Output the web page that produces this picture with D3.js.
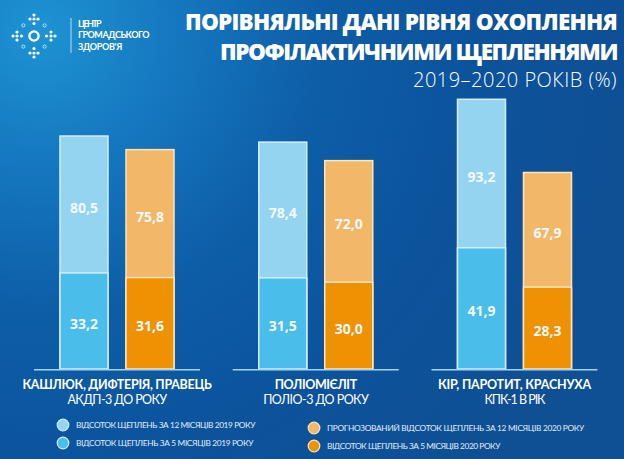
<!DOCTYPE html>
<html><head><meta charset="utf-8">
<script src="https://cdn.jsdelivr.net/npm/d3@7"></script>
<style>html,body{margin:0;padding:0;background:#0d5aa2;overflow:hidden;} svg{display:block;}</style>
</head><body><svg id="c" width="624" height="459"></svg>
<script>
// ---- data ----
const categories = ["КАШЛЮК, ДИФТЕРІЯ, ПРАВЕЦЬ", "ПОЛІОМІЄЛІТ", "КІР, ПАРОТИТ, КРАСНУХА"];
const subLabels = ["АКДП-3 ДО РОКУ", "ПОЛІО-3 ДО РОКУ", "КПК-1 В РІК"];
const years = ["2019", "2020"];
const full2019 = [80.5, 78.4, 93.2];
const part2019 = [33.2, 31.5, 41.9];
const full2020 = [75.8, 72.0, 67.9];
const part2020 = [31.6, 30.0, 28.3];
const legendLabels = [
  "ВІДСОТОК ЩЕПЛЕНЬ ЗА 12 МІСЯЦІВ 2019 РОКУ",
  "ВІДСОТОК ЩЕПЛЕНЬ ЗА 5 МІСЯЦІВ 2019 РОКУ",
  "ПРОГНОЗОВАНИЙ ВІДСОТОК ЩЕПЛЕНЬ ЗА 12 МІСЯЦІВ 2020 РОКУ",
  "ВІДСОТОК ЩЕПЛЕНЬ ЗА 5 МІСЯЦІВ 2020 РОКУ"
];
const titleLines = ["ПОРІВНЯЛЬНІ ДАНІ РІВНЯ ОХОПЛЕННЯ", "ПРОФІЛАКТИЧНИМИ ЩЕПЛЕННЯМИ", "2019–2020 РОКІВ (%)"];
const logoLines = ["ЦЕНТР", "ГРОМАДСЬКОГО", "ЗДОРОВ'Я"];

// ---- styles ----
const colFull = {"2019": "#95d4f1", "2020": "#f2b867"};
const colPart = {"2019": "#4abdea", "2020": "#ee9204"};
const colStroke = {"2019": "#d2eefb", "2020": "#fde5bd"};
const fmt = v => d3.format(".1f")(v).replace(".", ",");

// fit a text to a target width by adjusting letter spacing
function fit(sel, target) {
  const node = sel.node();
  const w = node.getComputedTextLength();
  const n = node.textContent.length;
  sel.attr("letter-spacing", ((target - w) / n).toFixed(3));
  return sel;
}

const svg = d3.select("#c");
const defs = svg.append("defs");
const rg = defs.append("radialGradient").attr("id", "bg")
  .attr("gradientUnits", "userSpaceOnUse").attr("cx", 40).attr("cy", 30).attr("r", 620);
[[0, "#1e93d3"], [0.22, "#1577bf"], [0.45, "#0d5ea7"], [0.7, "#0c539c"], [1, "#0f4f93"]]
  .forEach(([o, c]) => rg.append("stop").attr("offset", o).attr("stop-color", c));
svg.append("rect").attr("width", 624).attr("height", 459).attr("fill", "url(#bg)");

// ---- logo ----
const logo = svg.append("g").attr("transform", "translate(34,36)");
logo.append("circle").attr("r", 4.6).attr("fill", "none").attr("stroke", "#fff").attr("stroke-width", 2.4);
const armDots = [[0, -21], [-4, -17], [0, -17], [4, -17], [0, -12.5]];
for (let k = 0; k < 4; k++) {
  const a = k * Math.PI / 2;
  armDots.forEach(([dx, dy]) => {
    const x = dx * Math.cos(a) - dy * Math.sin(a), yy = dx * Math.sin(a) + dy * Math.cos(a);
    logo.append("circle").attr("cx", x).attr("cy", yy).attr("r", 1.6).attr("fill", "#fff");
  });
  const hx = Math.cos(a + Math.PI / 4) * 15, hy = Math.sin(a + Math.PI / 4) * 15;
  logo.append("circle").attr("cx", hx).attr("cy", hy).attr("r", 1.6).attr("fill", "none")
    .attr("stroke", "#fff").attr("stroke-width", 0.8).attr("opacity", 0.85);
}
svg.append("line").attr("x1", 71).attr("x2", 71).attr("y1", 18).attr("y2", 53)
  .attr("stroke", "#8fcdef").attr("stroke-width", 1.3);
const logoW = [22, 71, 44];
logoLines.forEach((t, i) => {
  fit(svg.append("text").attr("x", 78).attr("y", 27 + i * 11.3).text(t)
    .attr("font-family", "Lato, 'Open Sans', sans-serif").attr("font-weight", 700).attr("font-size", 9)
    .attr("fill", "#fff"), logoW[i]);
});

// ---- title ----
const tY = [30, 60, 87], tW = [432, 397, 204], tS = [22.5, 22.5, 20], tWt = [800, 800, 300];
titleLines.forEach((t, i) => {
  fit(svg.append("text").attr("x", 617).attr("y", tY[i]).attr("text-anchor", "end").text(t)
    .attr("font-family", "'Open Sans', sans-serif").attr("font-weight", tWt[i]).attr("font-size", tS[i])
    .attr("fill", "#fff"), tW[i]);
});

// ---- scales ----
const x0 = d3.scaleBand().domain(categories).range([17.6, 613.85]);
const x1 = d3.scaleBand().domain(years).range([42.4, 156.4]).paddingInner(0.2727);
const y = d3.scaleLinear().domain([0, 100]).range([369, 79.6]);

const rows = [];
categories.forEach((c, i) => {
  rows.push({cat: c, year: "2019", full: full2019[i], part: part2019[i]});
  rows.push({cat: c, year: "2020", full: full2020[i], part: part2020[i]});
});

const bars = svg.append("g").selectAll("g").data(rows).join("g")
  .attr("transform", d => `translate(${x0(d.cat) + x1(d.year)},0)`);
bars.append("rect").attr("x", 0).attr("width", x1.bandwidth())
  .attr("y", d => y(d.full)).attr("height", d => y(0) - y(d.full))
  .attr("fill", d => colFull[d.year]).attr("stroke", d => colStroke[d.year]).attr("stroke-width", 1.5);
bars.append("rect").attr("x", 0).attr("width", x1.bandwidth())
  .attr("y", d => y(d.part)).attr("height", d => y(0) - y(d.part))
  .attr("fill", d => colPart[d.year]).attr("stroke", d => colStroke[d.year]).attr("stroke-width", 1.5);
bars.append("text").attr("x", x1.bandwidth() / 2).attr("y", d => (y(d.full) + y(d.part)) / 2 + 3)
  .attr("dy", "0.36em").attr("text-anchor", "middle").text(d => fmt(d.full))
  .attr("font-family", "'Open Sans', sans-serif").attr("font-weight", 700).attr("font-size", 14).attr("fill", "#f4f9fd");
bars.append("text").attr("x", x1.bandwidth() / 2).attr("y", d => (y(d.part) + y(0)) / 2 + 3)
  .attr("dy", "0.36em").attr("text-anchor", "middle").text(d => fmt(d.part))
  .attr("font-family", "'Open Sans', sans-serif").attr("font-weight", 700).attr("font-size", 14).attr("fill", "#f4f9fd");

// baselines
svg.append("g").selectAll("line").data(categories).join("line")
  .attr("x1", d => x0(d) + x0.bandwidth() / 2 - 83).attr("x2", d => x0(d) + x0.bandwidth() / 2 + 83)
  .attr("y1", y(0) + 0.8).attr("y2", y(0) + 0.8).attr("stroke", "#a3d5f1").attr("stroke-width", 1.5);

// category labels
const catW = [189, 82, 153], subW = [99, 105, 60];
categories.forEach((c, i) => {
  const cx = x0(c) + x0.bandwidth() / 2;
  fit(svg.append("text").attr("x", cx).attr("y", 389).attr("text-anchor", "middle").text(c)
    .attr("font-family", "Lato, 'Open Sans', sans-serif").attr("font-weight", 700).attr("font-size", 12.5)
    .attr("fill", "#fff"), catW[i]);
  fit(svg.append("text").attr("x", cx).attr("y", 403.5).attr("text-anchor", "middle").text(subLabels[i])
    .attr("font-family", "Lato, 'Open Sans', sans-serif").attr("font-weight", 400).attr("font-size", 12.5)
    .attr("fill", "#fff"), subW[i]);
});

// legend
const legItems = [
  {label: legendLabels[0], fill: colFull["2019"], stroke: colStroke["2019"], cx: 63, cy: 425, w: 179},
  {label: legendLabels[1], fill: colPart["2019"], stroke: colStroke["2019"], cx: 63, cy: 443, w: 177},
  {label: legendLabels[2], fill: colFull["2020"], stroke: colStroke["2020"], cx: 314, cy: 428, w: 257},
  {label: legendLabels[3], fill: colPart["2020"], stroke: colStroke["2020"], cx: 314, cy: 446, w: 173}
];
const leg = svg.append("g").selectAll("g").data(legItems).join("g");
leg.append("circle").attr("cx", d => d.cx).attr("cy", d => d.cy).attr("r", 5.8)
  .attr("fill", d => d.fill).attr("stroke", d => d.stroke).attr("stroke-width", 1.2);
leg.append("text").attr("x", d => d.cx + 13).attr("y", d => d.cy + 3).text(d => d.label)
  .attr("font-family", "Lato, 'Open Sans', sans-serif").attr("font-weight", 400).attr("font-size", 8.3)
  .attr("fill", "#e4eef8").each(function(d) { fit(d3.select(this), d.w); });
</script>
</body></html>
